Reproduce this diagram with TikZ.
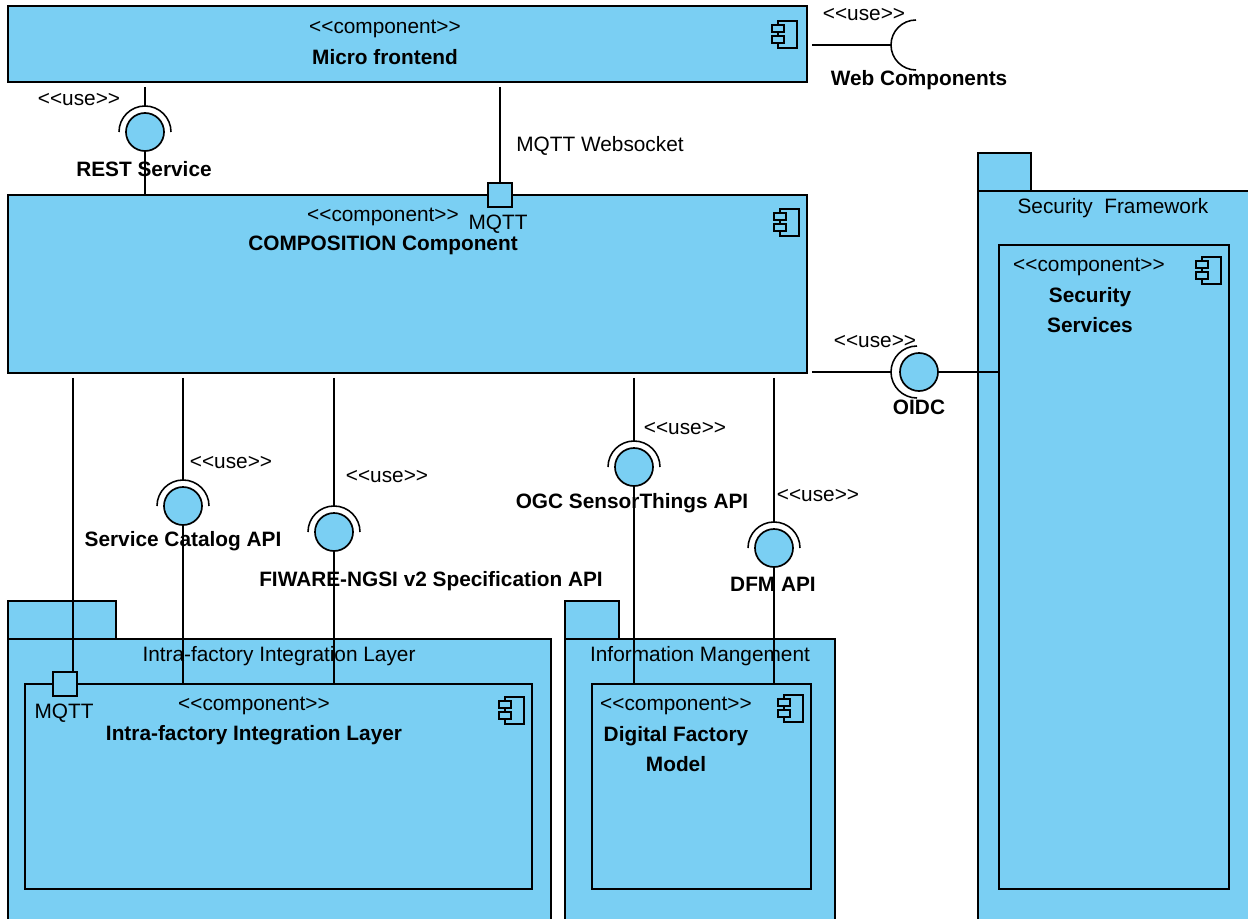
\documentclass[tikz,border=0pt]{standalone}
\usepackage{fontspec}
\setmainfont{Liberation Sans}[Ligatures=TeXOff]
\usetikzlibrary{fit,positioning,calc}
\definecolor{umlblue}{RGB}{122,207,243}

\begin{document}
\begin{tikzpicture}[x=0.025cm,y=-0.025cm,
  every node/.style={font=\fontsize{14.8}{17}\selectfont, inner sep=0pt},
  box/.style={draw=black, line width=1.3pt, fill=umlblue, inner sep=0pt},
  ball/.style={circle, draw, line width=1.2pt, fill=umlblue, minimum size=0.95cm},
  port/.style={draw, line width=1.2pt, fill=umlblue, minimum size=0.6cm},
  wire/.style={line width=1.1pt},
  gap/.style={shorten <=0.1cm},
  bname/.style={font=\fontsize{14.8}{17}\selectfont\bfseries, align=center},
  compicon/.pic={
    \draw[line width=1.1pt, fill=umlblue] (-5,-13) rectangle (14,14);
    \draw[line width=1.1pt, fill=umlblue] (-11,-9) rectangle (1,-2);
    \draw[line width=1.1pt, fill=umlblue] (-11,2) rectangle (1,9);
  }]
  \useasboundingbox[fill=white] (0,0) rectangle (1248,919);
  \clip (0,0) rectangle (1248,919);

  % packages
  \node[box, fit={(8,601) (116,639)}] (intra-tab) {};
  \node[box, fit={(8,639) (551,940)}] (intra-pkg) {};
  \node[box, fit={(565,601) (619,639)}] (info-tab) {};
  \node[box, fit={(565,639) (835,940)}] (info-pkg) {};
  \node[box, fit={(978,153) (1031,191)}] (sec-tab) {};
  \node[box, fit={(978,191) (1270,940)}] (sec-pkg) {};
  \node (intra-lbl) at (279,656) {Intra-factory Integration Layer};
  \node (info-lbl) at (700,656) {Information Mangement};
  \node (sec-lbl) at (1113,208) {Security\ \ Framework};

  % components
  \node[box, fit={(8,6) (807,82)}] (micro) {};
  \node[box, fit={(8,195) (807,373)}] (comp) {};
  \node[box, fit={(25,684) (532,889)}] (intra) {};
  \node[box, fit={(592,684) (811,889)}] (dfmodel) {};
  \node[box, fit={(999,245) (1229,889)}] (secsrv) {};
  \foreach \p in {(783,34),(785,222),(510,710),(789,708),(1207,270)}
    \pic at \p {compicon};

  \node (micro-st) at (385,29) {<<component>>};
  \node[bname] (micro-nm) at (385,57) {Micro frontend};
  \node (comp-st) at (383,217) {<<component>>};
  \node[bname] (comp-nm) at (383,245) {COMPOSITION Component};
  \node (intra-st) at (254,706) {<<component>>};
  \node[bname] (intra-nm) at (254,735) {Intra-factory Integration Layer};
  \node (dfmodel-st) at (676,706) {<<component>>};
  \node[bname] (dfmodel-nm) at (676,749) {Digital Factory\\[4pt]Model};
  \node (secsrv-st) at (1089,267) {<<component>>};
  \node[bname] (secsrv-nm) at (1090,310) {Security\\[4pt]Services};

  % ports
  \node[port] (mqtt1) at (500,195) {};
  \node (mqtt1-lbl) at (498,224) {MQTT};
  \node (ws-lbl) at (600,146) {MQTT Websocket};
  \node[port] (mqtt2) at (65,684) {};
  \node (mqtt2-lbl) at (64,713) {MQTT};
  \coordinate (mq2in) at (73,672);
  \draw[wire,gap] (micro.south -| mqtt1) -- (mqtt1.north);
  \draw[wire,gap] (comp.south -| mq2in) -- (mq2in);

  % provided / required interfaces
  \node[ball] (rest) at (145,132) {};
  \node[ball] (oidc) at (919,372) {};
  \node[ball] (catalog) at (183,506) {};
  \node[ball] (fiware) at (334,532) {};
  \node[ball] (ogc) at (634,467) {};
  \node[ball] (dfmapi) at (774,548) {};
  \coordinate (wc) at (916,45);
  \coordinate (oidc-s) at (917,372);

  \draw[wire,gap] (micro.south -| rest) -- ([yshift=0.65cm]rest.center);
  \draw[wire] ([xshift=-0.65cm]rest.center) arc[start angle=180,end angle=0,radius=0.65cm];
  \draw[wire] (rest.south) -- (comp.north -| rest);

  \draw[wire,gap] (micro.east |- wc) -- ([xshift=-0.625cm]wc);
  \draw[wire] ([yshift=0.625cm]wc) arc[start angle=90,end angle=270,radius=0.625cm];

  \draw[wire,gap] (comp.south east |- oidc-s) -- ([xshift=-0.65cm]oidc-s);
  \draw[wire] ([yshift=0.65cm]oidc-s) arc[start angle=90,end angle=270,radius=0.65cm];
  \draw[wire] (oidc.east) -- (secsrv.west |- oidc);

  \foreach \b/\t in {catalog/intra, fiware/intra, ogc/dfmodel, dfmapi/dfmodel} {
    \draw[wire,gap] (comp.south -| \b) -- ([yshift=0.65cm]\b.center);
    \draw[wire] ([xshift=-0.65cm]\b.center) arc[start angle=180,end angle=0,radius=0.65cm];
    \draw[wire] (\b.south) -- (\t.north -| \b);
  }

  \node (use-wc) at (864,15) {<<use>>};
  \node[bname] (wc-lbl) at (919,80) {Web Components};
  \node (use-rest) at (79,100) {<<use>>};
  \node[bname] (rest-lbl) at (144,169) {REST Service};
  \node (use-oidc) at (875,342) {<<use>>};
  \node[bname] (oidc-lbl) at (919,407) {OIDC};
  \node (use-cat) at (231,463) {<<use>>};
  \node[bname] (cat-lbl) at (183,541) {Service Catalog API};
  \node (use-fiw) at (387,477) {<<use>>};
  \node[bname] (fiw-lbl) at (431,581) {FIWARE-NGSI v2 Specification API};
  \node (use-ogc) at (685,429) {<<use>>};
  \node[bname] (ogc-lbl) at (632,503) {OGC SensorThings API};
  \node (use-dfm) at (818,496) {<<use>>};
  \node[bname] (dfm-lbl) at (773,584) {DFM API};
\end{tikzpicture}
\end{document}
